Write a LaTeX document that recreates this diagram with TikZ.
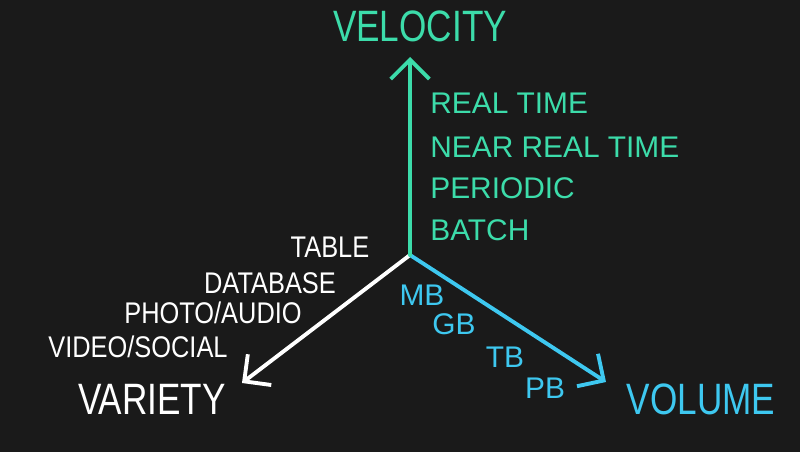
\documentclass[tikz,border=0pt]{standalone}
\usepackage{fontspec}
\setmainfont{Liberation Sans}
\newfontfamily\axisfont{Liberation Sans}[FakeStretch=0.8]
\newfontfamily\narrowfont{Liberation Sans}[FakeStretch=0.85]
\usetikzlibrary{arrows.meta}
\definecolor{bgcolor} {RGB}{26, 26, 26}
\definecolor{velcolor}{RGB}{60, 220, 170}
\definecolor{volcolor}{RGB}{62, 200, 240}
\definecolor{varcolor}{RGB}{255, 255, 255}
\tikzset{
	axisarrow/.style={
		-{Straight Barb[length=11pt, width=22pt]},
		line width=2.2pt, line cap=round, line join=round
	},
	itemlabel/.style={
		font=\fontsize{17}{20}\selectfont, inner sep=0pt
	},
	narrowlabel/.style={
		font=\narrowfont\fontsize{17}{20}\selectfont, inner sep=0pt
	},
	axislabel/.style={
		font=\axisfont\fontsize{25}{30}\selectfont, inner sep=0pt
	}
}
\begin{document}
\begin{tikzpicture}[x=0.02cm, y=-0.02cm]
	
	%% background / bounding box
	\fill[bgcolor] (0,0) rectangle (800,452);
	\useasboundingbox (0,0) rectangle (800,452);
	
	%% ═══════════════════════════════
	%%  AXES
	%% ═══════════════════════════════
	\coordinate (origin)  at (410,255);
	\coordinate (veltip)  at (410,57);
	\coordinate (vartip)  at (242,383);
	\coordinate (voltip)  at (606,382);
	
	\draw[axisarrow, varcolor] (origin) -- (vartip);
	\draw[axisarrow, volcolor] (origin) -- (voltip);
	\draw[axisarrow, velcolor] (origin) -- (veltip);
	
	%% ═══════════════════════════════
	%%  VELOCITY
	%% ═══════════════════════════════
	\node[axislabel, text=velcolor] (velocity) at (420,26) {VELOCITY};
	\node[itemlabel, text=velcolor, anchor=west] (realtime) at (430,103) {REAL TIME};
	\node[itemlabel, text=velcolor, anchor=west] (nearreal) at (430,147) {NEAR REAL TIME};
	\node[itemlabel, text=velcolor, anchor=west] (periodic) at (430,188) {PERIODIC};
	\node[itemlabel, text=velcolor, anchor=west] (batch)    at (430,230) {BATCH};
	
	%% ═══════════════════════════════
	%%  VARIETY
	%% ═══════════════════════════════
	\node[axislabel, text=varcolor] (variety) at (152,399) {VARIETY};
	\node[narrowlabel, text=varcolor] (table)    at (330,247) {TABLE};
	\node[narrowlabel, text=varcolor] (database) at (270,283) {DATABASE};
	\node[narrowlabel, text=varcolor] (photo)    at (213,313) {PHOTO/AUDIO};
	\node[narrowlabel, text=varcolor] (video)    at (138,347) {VIDEO/SOCIAL};
	
	%% ═══════════════════════════════
	%%  VOLUME
	%% ═══════════════════════════════
	\node[axislabel, text=volcolor] (volume) at (701,399) {VOLUME};
	\node[itemlabel, text=volcolor] (mb) at (422,295) {MB};
	\node[itemlabel, text=volcolor] (gb) at (454,324) {GB};
	\node[itemlabel, text=volcolor] (tb) at (505,357) {TB};
	\node[itemlabel, text=volcolor] (pb) at (545,388) {PB};
	
\end{tikzpicture}
\end{document}
